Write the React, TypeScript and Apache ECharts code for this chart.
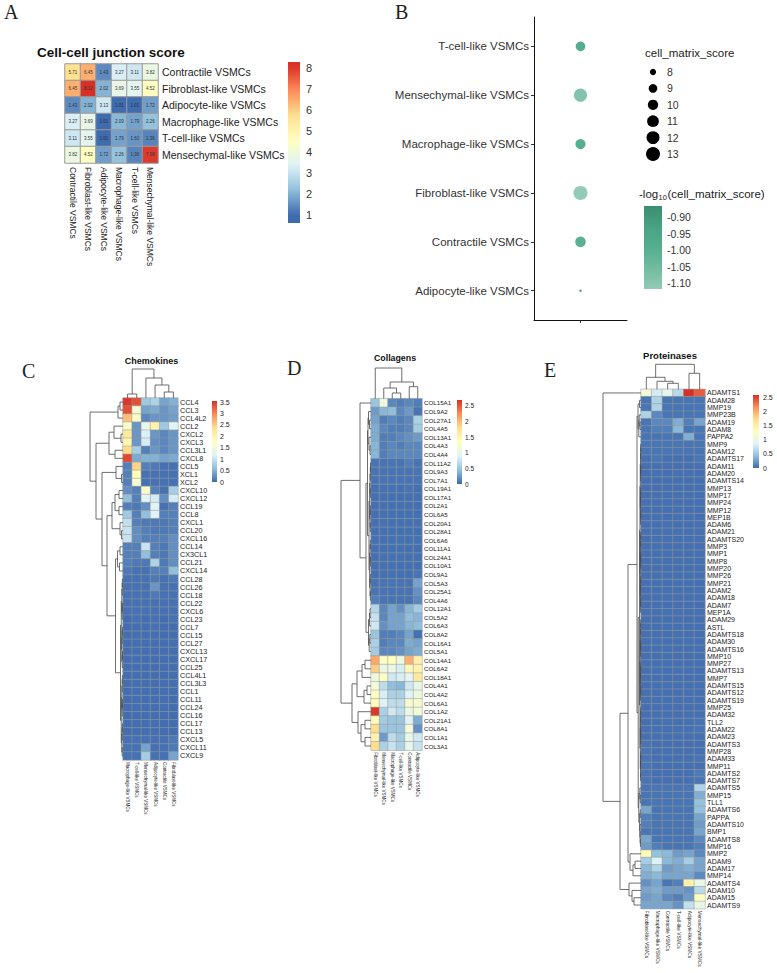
import React, { useEffect, useRef } from "react";
import * as echarts from "echarts";

type Tree = number | [Tree, Tree, number];

const SANS = '"Liberation Sans", Arial, Helvetica, sans-serif';
const SERIF = '"Liberation Serif", "Times New Roman", serif';
const PAL = ["#3F6BAF", "#91BFDB", "#E0F3F8", "#FFFFBF", "#FEE090", "#FC8D59", "#D73027"];
const GREENS = ["#93cbb6", "#72bb9f", "#55ae8f", "#48a283", "#3b8c71"];

// ---------------- Panel A : cell-cell junction score ----------------
const junctionTypes = [
  "Contractile VSMCs",
  "Fibroblast-like VSMCs",
  "Adipocyte-like VSMCs",
  "Macrophage-like VSMCs",
  "T-cell-like VSMCs",
  "Mensechymal-like VSMCs",
];
const junctionScores = [
  [5.71, 6.45, 1.43, 3.27, 3.11, 3.82],
  [6.45, 8.12, 2.02, 3.69, 3.55, 4.52],
  [1.43, 2.02, 3.13, 1.01, 1.01, 1.72],
  [3.27, 3.69, 1.01, 2.09, 1.79, 2.26],
  [3.11, 3.55, 1.01, 1.79, 1.6, 1.36],
  [3.82, 4.52, 1.72, 2.26, 1.36, 7.98],
];
const junctionTicks = [1, 2, 3, 4, 5, 6, 7, 8];

// ---------------- Panel B : cell matrix score dot plot ----------------
const dotTypes = [
  "Adipocyte-like VSMCs",
  "Contractile VSMCs",
  "Fibroblast-like VSMCs",
  "Macrophage-like VSMCs",
  "Mensechymal-like VSMCs",
  "T-cell-like VSMCs",
];
const matrixScores = [7.36, 10.2, 13.1, 9.9, 12.2, 9.6];
const sizeBreaks = [8, 9, 10, 11, 12, 13];
const colorBreaks = [-0.9, -0.95, -1.0, -1.05, -1.1];

// ---------------- Panel C : Chemokines ----------------
const chemoCols = [
  "Macrophage-like VSMCs",
  "T-cell-like VSMCs",
  "Mensechymal-like VSMCs",
  "Adipocyte-like VSMCs",
  "Contractile VSMCs",
  "Fibroblast-like VSMCs",
];
const chemoGenes = [
  "CCL4", "CCL3", "CCL4L2", "CCL2", "CXCL2", "CXCL3", "CCL3L1", "CXCL8", "CCL5", "XCL1", "XCL2",
  "CXCL10", "CXCL12", "CCL19", "CCL8", "CXCL1", "CCL20", "CXCL16", "CCL14", "CX3CL1", "CCL21",
  "CXCL14", "CCL28", "CCL26", "CCL18", "CCL22", "CXCL6", "CCL23", "CCL7", "CCL15", "CCL27",
  "CXCL13", "CXCL17", "CCL25", "CCL4L1", "CCL3L3", "CCL1", "CCL11", "CCL24", "CCL16", "CCL17",
  "CCL13", "CXCL5", "CXCL11", "CXCL9",
];
const chemoValues = [
  [3.5, 3.35, 0.7, 0.8, 0.4, 0.5],
  [3.35, 1.55, 0.4, 0.45, 0.3, 0.4],
  [2.6, 1.7, 0.2, 0.3, 0.3, 0.35],
  [1.65, 0.3, 1.35, 2.0, 0.7, 1.2],
  [2.2, 0.3, 1.15, 0.3, 0.2, 0.3],
  [1.95, 0.3, 1.1, 0.25, 0.2, 0.3],
  [2.4, 0.75, 0.15, 0.3, 0.2, 0.3],
  [3.4, 0.45, 0.5, 0.5, 0.4, 0.45],
  [0.15, 2.45, 0.15, 0.1, 0.05, 0.05],
  [0.15, 1.8, 0.05, 0.05, 0.05, 0.05],
  [0.15, 1.6, 0.05, 0.05, 0.05, 0.05],
  [0.25, 0.15, 1.65, 0.15, 0.05, 0.75],
  [0.6, 0.15, 1.25, 1.1, 0.25, 1.1],
  [0.15, 0.1, 0.25, 1.2, 0.05, 0.15],
  [0.7, 0.15, 0.6, 1.2, 0.15, 0.15],
  [0.95, 0.15, 0.1, 0.1, 0.1, 0.15],
  [1.0, 0.25, 0.15, 0.1, 0.1, 0.15],
  [1.0, 0.25, 0.15, 0.15, 0.15, 0.25],
  [0.15, 0.15, 1.0, 0.15, 0.1, 0.25],
  [0.15, 0.15, 0.6, 0.15, 0.1, 0.25],
  [0.15, 0.1, 0.1, 0.8, 0.1, 0.25],
  [0.1, 0.05, 0.05, 0.15, 0.15, 0.6],
  [0.05, 0.05, 0.05, 0.1, 0.05, 0.1],
  [0.05, 0.05, 0.05, 0.3, 0.05, 0.05],
  [0.05, 0.05, 0.05, 0.1, 0.05, 0.05],
  [0.05, 0.05, 0.05, 0.05, 0.05, 0.05],
  [0.05, 0.05, 0.05, 0.05, 0.05, 0.05],
  [0.03, 0.05, 0.03, 0.05, 0.03, 0.05],
  [0.03, 0.03, 0.03, 0.05, 0.03, 0.03],
  [0.03, 0.03, 0.03, 0.03, 0.03, 0.03],
  [0.03, 0.03, 0.03, 0.03, 0.03, 0.03],
  [0.03, 0.03, 0.03, 0.03, 0.03, 0.03],
  [0.03, 0.03, 0.03, 0.03, 0.03, 0.03],
  [0.03, 0.03, 0.03, 0.03, 0.03, 0.03],
  [0.03, 0.03, 0.03, 0.03, 0.03, 0.03],
  [0.03, 0.03, 0.03, 0.03, 0.03, 0.03],
  [0.03, 0.03, 0.03, 0.03, 0.03, 0.03],
  [0.03, 0.03, 0.03, 0.03, 0.03, 0.03],
  [0.03, 0.03, 0.03, 0.03, 0.03, 0.03],
  [0.03, 0.03, 0.03, 0.03, 0.03, 0.03],
  [0.03, 0.03, 0.03, 0.03, 0.03, 0.03],
  [0.03, 0.03, 0.03, 0.03, 0.03, 0.03],
  [0.05, 0.05, 0.05, 0.05, 0.05, 0.1],
  [0.05, 0.05, 0.4, 0.05, 0.05, 0.1],
  [0.05, 0.05, 0.75, 0.05, 0.05, 0.4],
];
const chemoTicks = [0, 0.5, 1, 1.5, 2, 2.5, 3, 3.5];

// ---------------- Panel D : Collagens ----------------
const collaCols = [
  "Fibroblast-like VSMCs",
  "Mensechymal-like VSMCs",
  "Macrophage-like VSMCs",
  "T-cell-like VSMCs",
  "Contractile VSMCs",
  "Adipocyte-like VSMCs",
];
const collaGenes = [
  "COL15A1", "COL9A2", "COL27A1", "COL4A5", "COL13A1", "COL4A3", "COL4A4", "COL11A2", "COL9A3",
  "COL7A1", "COL19A1", "COL17A1", "COL2A1", "COL6A5", "COL20A1", "COL28A1", "COL6A6", "COL11A1",
  "COL24A1", "COL10A1", "COL9A1", "COL5A3", "COL25A1", "COL4A6", "COL12A1", "COL5A2", "COL6A3",
  "COL8A2", "COL16A1", "COL5A1", "COL14A1", "COL6A2", "COL18A1", "COL4A1", "COL4A2", "COL6A1",
  "COL1A2", "COL21A1", "COL8A1", "COL1A1", "COL3A1",
];
const collaValues = [
  [0.5, 1.1, 0.15, 0.1, 0.15, 0.1],
  [0.25, 0.4, 0.45, 0.15, 0.25, 0.05],
  [0.3, 0.1, 0.15, 0.1, 0.15, 0.6],
  [0.35, 0.15, 0.1, 0.1, 0.15, 0.55],
  [0.35, 0.1, 0.1, 0.15, 0.2, 0.25],
  [0.4, 0.1, 0.15, 0.1, 0.15, 0.15],
  [0.4, 0.1, 0.15, 0.15, 0.15, 0.15],
  [0.05, 0.05, 0.05, 0.05, 0.1, 0.05],
  [0.05, 0.05, 0.05, 0.05, 0.05, 0.05],
  [0.05, 0.05, 0.05, 0.05, 0.05, 0.05],
  [0.03, 0.03, 0.03, 0.03, 0.05, 0.03],
  [0.03, 0.03, 0.03, 0.03, 0.03, 0.03],
  [0.03, 0.03, 0.03, 0.03, 0.03, 0.03],
  [0.03, 0.03, 0.03, 0.03, 0.03, 0.03],
  [0.03, 0.03, 0.03, 0.03, 0.03, 0.03],
  [0.03, 0.03, 0.03, 0.03, 0.03, 0.03],
  [0.03, 0.03, 0.03, 0.03, 0.03, 0.03],
  [0.03, 0.03, 0.03, 0.03, 0.03, 0.03],
  [0.03, 0.03, 0.03, 0.03, 0.03, 0.03],
  [0.03, 0.03, 0.03, 0.03, 0.03, 0.03],
  [0.03, 0.03, 0.03, 0.03, 0.03, 0.05],
  [0.05, 0.05, 0.05, 0.05, 0.05, 0.3],
  [0.05, 0.05, 0.05, 0.05, 0.05, 0.2],
  [0.1, 0.05, 0.05, 0.05, 0.05, 0.15],
  [0.65, 0.15, 0.3, 0.2, 0.4, 0.55],
  [0.75, 0.15, 0.3, 0.3, 0.45, 0.4],
  [0.8, 0.2, 0.3, 0.3, 0.4, 0.45],
  [0.5, 0.1, 0.1, 0.15, 0.3, 0.03],
  [0.6, 0.1, 0.15, 0.15, 0.35, 0.3],
  [0.55, 0.15, 0.15, 0.2, 0.3, 0.35],
  [2.1, 1.3, 1.35, 1.1, 2.05, 1.55],
  [1.9, 1.05, 1.05, 0.85, 1.45, 1.5],
  [1.1, 1.3, 0.8, 0.85, 0.95, 1.65],
  [1.15, 0.7, 0.45, 0.4, 0.8, 1.0],
  [1.3, 0.85, 0.6, 0.6, 0.9, 1.1],
  [1.4, 0.9, 0.7, 0.7, 1.2, 1.2],
  [2.65, 0.6, 0.8, 0.7, 1.05, 1.15],
  [1.4, 0.55, 0.5, 0.5, 0.9, 0.35],
  [1.8, 0.5, 0.5, 0.5, 1.15, 0.2],
  [1.5, 0.25, 0.7, 0.55, 1.0, 0.8],
  [1.8, 0.6, 0.75, 0.6, 1.0, 0.75],
];
const collaTicks = [0, 0.5, 1, 1.5, 2, 2.5];

// ---------------- Panel E : Proteinases ----------------
const protCols = [
  "Fibroblast-like VSMCs",
  "Macrophage-like VSMCs",
  "Contractile VSMCs",
  "T-cell-like VSMCs",
  "Adipocyte-like VSMCs",
  "Mensechymal-like VSMCs",
];
const protGenes = [
  "ADAMTS1", "ADAM28", "MMP19", "MMP23B", "ADAM19", "ADAM8", "PAPPA2", "MMP9", "ADAM12",
  "ADAMTS17", "ADAM11", "ADAM20", "ADAMTS14", "MMP13", "MMP17", "MMP24", "MMP12", "MEP1B",
  "ADAM6", "ADAM21", "ADAMTS20", "MMP3", "MMP1", "MMP8", "MMP20", "MMP26", "MMP21", "ADAM2",
  "ADAM18", "ADAM7", "MEP1A", "ADAM29", "ASTL", "ADAMTS18", "ADAM30", "ADAMTS16", "MMP10",
  "MMP27", "ADAMTS13", "MMP7", "ADAMTS15", "ADAMTS12", "ADAMTS19", "MMP25", "ADAM32", "TLL2",
  "ADAM22", "ADAM23", "ADAMTS3", "MMP28", "ADAM33", "MMP11", "ADAMTS2", "ADAMTS7", "ADAMTS5",
  "MMP15", "TLL1", "ADAMTS6", "PAPPA", "ADAMTS10", "BMP1", "ADAMTS8", "MMP16", "MMP2", "ADAM9",
  "ADAM17", "MMP14", "ADAMTS4", "ADAM10", "ADAM15", "ADAMTS9",
];
const protValues = [
  [1.1, 0.8, 0.95, 0.65, 2.6, 2.4],
  [0.05, 0.6, 0.05, 0.05, 0.05, 0.05],
  [0.05, 0.6, 0.05, 0.05, 0.05, 0.05],
  [0.6, 0.15, 0.05, 0.05, 0.05, 0.05],
  [0.05, 0.15, 0.15, 0.35, 0.1, 0.3],
  [0.05, 0.1, 0.1, 0.4, 0.05, 0.05],
  [0.05, 0.05, 0.05, 0.05, 0.35, 0.05],
  [0.05, 0.05, 0.05, 0.05, 0.05, 0.05],
  [0.05, 0.05, 0.05, 0.05, 0.05, 0.05],
  [0.03, 0.05, 0.03, 0.03, 0.03, 0.05],
  [0.03, 0.03, 0.03, 0.03, 0.03, 0.03],
  [0.03, 0.03, 0.03, 0.03, 0.03, 0.03],
  [0.03, 0.03, 0.03, 0.03, 0.03, 0.03],
  [0.03, 0.03, 0.03, 0.03, 0.03, 0.03],
  [0.03, 0.03, 0.03, 0.03, 0.03, 0.03],
  [0.03, 0.03, 0.03, 0.03, 0.03, 0.03],
  [0.03, 0.03, 0.03, 0.03, 0.03, 0.03],
  [0.03, 0.03, 0.03, 0.03, 0.03, 0.03],
  [0.03, 0.03, 0.03, 0.03, 0.03, 0.03],
  [0.03, 0.03, 0.03, 0.03, 0.03, 0.03],
  [0.03, 0.03, 0.03, 0.03, 0.03, 0.03],
  [0.03, 0.03, 0.03, 0.03, 0.03, 0.03],
  [0.03, 0.03, 0.03, 0.03, 0.03, 0.03],
  [0.03, 0.03, 0.03, 0.03, 0.03, 0.03],
  [0.03, 0.03, 0.03, 0.03, 0.03, 0.03],
  [0.03, 0.03, 0.03, 0.03, 0.03, 0.03],
  [0.03, 0.03, 0.03, 0.03, 0.03, 0.03],
  [0.03, 0.03, 0.03, 0.03, 0.03, 0.03],
  [0.03, 0.03, 0.03, 0.03, 0.03, 0.03],
  [0.03, 0.03, 0.03, 0.03, 0.03, 0.03],
  [0.03, 0.03, 0.03, 0.03, 0.03, 0.03],
  [0.03, 0.03, 0.03, 0.03, 0.03, 0.03],
  [0.03, 0.03, 0.03, 0.03, 0.03, 0.03],
  [0.03, 0.03, 0.03, 0.03, 0.03, 0.03],
  [0.03, 0.03, 0.03, 0.03, 0.03, 0.03],
  [0.03, 0.03, 0.03, 0.03, 0.03, 0.03],
  [0.03, 0.03, 0.03, 0.03, 0.03, 0.03],
  [0.03, 0.03, 0.03, 0.03, 0.03, 0.03],
  [0.03, 0.03, 0.03, 0.03, 0.03, 0.03],
  [0.03, 0.03, 0.03, 0.03, 0.03, 0.03],
  [0.03, 0.03, 0.03, 0.03, 0.03, 0.03],
  [0.03, 0.03, 0.03, 0.03, 0.03, 0.03],
  [0.03, 0.03, 0.03, 0.03, 0.03, 0.03],
  [0.03, 0.03, 0.03, 0.03, 0.03, 0.03],
  [0.03, 0.03, 0.03, 0.03, 0.03, 0.03],
  [0.03, 0.03, 0.03, 0.03, 0.03, 0.05],
  [0.03, 0.03, 0.03, 0.03, 0.03, 0.05],
  [0.03, 0.03, 0.03, 0.03, 0.03, 0.03],
  [0.05, 0.03, 0.03, 0.03, 0.03, 0.03],
  [0.05, 0.03, 0.03, 0.03, 0.03, 0.03],
  [0.05, 0.03, 0.03, 0.03, 0.03, 0.05],
  [0.05, 0.03, 0.03, 0.03, 0.03, 0.03],
  [0.05, 0.03, 0.03, 0.03, 0.03, 0.08],
  [0.05, 0.03, 0.03, 0.03, 0.03, 0.05],
  [0.05, 0.05, 0.05, 0.05, 0.05, 0.6],
  [0.05, 0.05, 0.05, 0.05, 0.05, 0.35],
  [0.05, 0.05, 0.05, 0.05, 0.05, 0.45],
  [0.3, 0.05, 0.05, 0.05, 0.05, 0.45],
  [0.1, 0.05, 0.05, 0.05, 0.05, 0.3],
  [0.1, 0.05, 0.05, 0.05, 0.05, 0.25],
  [0.05, 0.05, 0.05, 0.05, 0.05, 0.3],
  [0.3, 0.05, 0.05, 0.05, 0.05, 0.15],
  [0.25, 0.1, 0.05, 0.05, 0.05, 0.1],
  [1.35, 0.45, 0.4, 0.25, 0.3, 0.15],
  [0.55, 0.85, 0.4, 0.35, 0.55, 0.3],
  [0.4, 0.6, 0.25, 0.3, 0.35, 0.3],
  [0.35, 0.4, 0.3, 0.3, 0.3, 0.15],
  [0.2, 0.3, 0.05, 0.1, 1.5, 1.0],
  [0.3, 0.35, 0.25, 0.25, 0.2, 0.65],
  [0.25, 0.3, 0.15, 0.1, 0.25, 1.3],
  [0.3, 0.3, 0.3, 0.2, 0.7, 1.0],
];
const protTicks = [0, 0.5, 1, 1.5, 2, 2.5];

// ---------------- Dendrograms (merge trees, leaf = row / column index) ----------------
function blk(a: number, b: number, h: number): Tree {
  if (a === b) return a;
  const m = Math.floor((a + b) / 2);
  return [blk(a, m, h * 0.7), blk(m + 1, b, h * 0.7), h];
}
const chemoRowTree: Tree = [
  [[0, 1, 3], 2, 5],
  [
    [[3, [4, 5, 2], 9], [6, 7, 8], 14],
    [
      [8, [9, 10, 1.5], 7],
      [
        [[[11, 12, 4], [13, 14, 4], 8], [15, [16, 17, 1.5], 3], 11],
        [[[18, 19, 3], [20, 21, 3.5], 5.5], blk(22, 44, 2.5), 7.5],
        16,
      ],
      21,
    ],
    27,
  ],
  33,
];
const chemoColTree: Tree = [[0, 1, 4], [2, [3, [4, 5, 6], 13], 20], 29];

const collaRowTree: Tree = [
  [
    0,
    [
      [[[1, [2, 3, 1.5], 2.5], [4, [5, 6, 1], 2], 3], blk(7, 23, 2), 3.5],
      [[[24, 25, 1], 26, 1.5], [[27, 28, 1.2], 29, 1.8], 2.5],
      5,
    ],
    11,
  ],
  [
    [[[30, 31, 6], 32, 9], [[33, 34, 4], 35, 7], 14],
    [36, [[37, 38, 6], [39, 40, 6], 10], 13],
    19,
  ],
  30,
];
const collaColTree: Tree = [0, [[1, [2, 3, 5.7], 10.7], [4, 5, 12], 16.7], 30.7];

const protRowTree: Tree = [
  0,
  [
    [
      [
        [[1, 2, 1.5], [[3, [4, 5, 1], 1.8], 6, 2.2], 3],
        [
          blk(7, 53, 1.5),
          [[54, [55, 56, 0.8], 1.2], [[57, 58, 0.8], [59, [60, [61, 62, 0.6], 0.9], 1.1], 1.4], 2.2],
          2.8,
        ],
        4,
      ],
      [63, [[64, 65, 6], 66, 8], 11],
      13,
    ],
    [67, [68, [69, 70, 7], 9], 12],
    21,
  ],
  38,
];
const protColTree: Tree = [[0, [1, [2, 3, 6], 8], 12], [4, 5, 16], 25];

// ---------------- Layout (positions / sizes / styles only) ----------------
const LAYOUT = {
  A: {
    hm: { left: 65, top: 64, width: 93, height: 99 },
    xFont: 8.5, yFont: 10.5, margin: 4,
    bar: { x: 288, y: 62, w: 12, h: 161, lo: 0.62, hi: 8.29, labelX: 306, fs: 11 },
    title: { x: 37, y: 52 },
  },
  B: {
    grid: { left: 534, top: 17, width: 93, height: 303 },
    sizeLegend: { titleX: 645, titleY: 53, x: 653, y0: 72, dy: 16.4, labelX: 667 },
    colorLegend: { titleX: 639, titleY: 194, x: 644, y: 206, w: 18, h: 83, labelX: 667 },
  },
  C: {
    hm: { left: 123, top: 398, width: 55, height: 362 },
    rowD: 33, colD: 29, yFont: 7.2, xFont: 4.5,
    bar: { x: 212, y: 401, w: 5, h: 81, lo: 0, hi: 3.55, labelX: 220, fs: 7 },
    title: { text: "Chemokines", x: 151.5, y: 361, fs: 9 },
  },
  D: {
    hm: { left: 371, top: 398.7, width: 51, height: 351.6 },
    rowD: 30, colD: 30.7, yFont: 6.2, xFont: 4.5,
    bar: { x: 457, y: 400, w: 5, h: 84, lo: 0, hi: 2.69, labelX: 465, fs: 6.5 },
    title: { text: "Collagens", x: 395, y: 358, fs: 8.8 },
  },
  E: {
    hm: { left: 641, top: 389.3, width: 64, height: 519.4 },
    rowD: 38, colD: 25, yFont: 7, xFont: 4.8,
    bar: { x: 753, y: 395, w: 6, h: 73, lo: 0, hi: 2.6, labelX: 763, fs: 7 },
    title: { text: "Proteinases", x: 670, y: 355, fs: 9.5 },
  },
};

// ---------------- helpers ----------------
function hexToRgb(h: string) {
  const n = parseInt(h.slice(1), 16);
  return [(n >> 16) & 255, (n >> 8) & 255, n & 255];
}
function mix(stops: string[], t: number) {
  const tt = Math.max(0, Math.min(1, t));
  const f = tt * (stops.length - 1);
  const i = Math.min(stops.length - 2, Math.floor(f));
  const u = f - i;
  const a = hexToRgb(stops[i]);
  const b = hexToRgb(stops[i + 1]);
  const c = a.map((x, k) => Math.round(x + (b[k] - x) * u));
  return `rgb(${c[0]},${c[1]},${c[2]})`;
}
const palAt = (min: number, max: number) => (v: number) => mix(PAL, (v - min) / (max - min));

function txt(text: string, x: number, y: number, fontSize: number, extra: any = {}) {
  const align = extra.align || "left";
  return {
    type: "text",
    x,
    y,
    silent: true,
    z: 10,
    style: {
      text,
      fontSize,
      fontFamily: extra.fontFamily || SANS,
      fontWeight: extra.fontWeight || "normal",
      fill: extra.fill || "#222",
      align,
      textAlign: align,
      verticalAlign: "middle",
      textVerticalAlign: "middle",
    },
  };
}

function colorbar(cb: any, colorAt: (v: number) => string, ticks: number[], fmt: (v: number) => string, fill = "#222") {
  const stops: any[] = [];
  for (let i = 0; i <= 24; i++) {
    const t = i / 24;
    stops.push({ offset: t, color: colorAt(cb.hi - t * (cb.hi - cb.lo)) });
  }
  const els: any[] = [
    {
      type: "rect",
      silent: true,
      shape: { x: cb.x, y: cb.y, width: cb.w, height: cb.h },
      style: { fill: { type: "linear", x: 0, y: 0, x2: 0, y2: 1, colorStops: stops } },
    },
  ];
  ticks.forEach((v) => {
    const y = cb.y + ((cb.hi - v) / (cb.hi - cb.lo)) * cb.h;
    els.push(txt(fmt(v), cb.labelX ?? cb.x + cb.w + 5, y, cb.fs ?? 10.5, { fill }));
  });
  return els;
}

function segments(tree: Tree) {
  const out: number[][] = [];
  const walk = (n: Tree): [number, number] => {
    if (typeof n === "number") return [n, 0];
    const a = walk(n[0]);
    const b = walk(n[1]);
    out.push([a[0], a[1], b[0], b[1], n[2]]);
    return [(a[0] + b[0]) / 2, n[2]];
  };
  walk(tree);
  return out;
}
const rootHeight = (t: Tree) => (typeof t === "number" ? 0 : t[2]);

export default function App() {
  const ref = useRef<HTMLDivElement>(null);

  useEffect(() => {
    if (!ref.current) return;
    const chart = echarts.init(ref.current, null, { renderer: "svg" });

    const grids: any[] = [];
    const xAxes: any[] = [];
    const yAxes: any[] = [];
    const series: any[] = [];
    const visualMaps: any[] = [];
    const graphics: any[] = [];

    const addGrid = (g: any) => {
      grids.push({ ...g, containLabel: false, outerBoundsMode: "none", show: false });
      return grids.length - 1;
    };

    const heatAxes = (gi: number, cols: string[], rows: string[], xFont: number, yFont: number, margin: number) => {
      xAxes.push({
        type: "category", gridIndex: gi, data: cols, position: "bottom",
        axisLine: { show: false }, axisTick: { show: false }, splitLine: { show: false },
        axisLabel: { interval: 0, rotate: -90, fontSize: xFont, color: "#222", margin, fontFamily: SANS },
      });
      yAxes.push({
        type: "category", gridIndex: gi, data: rows, inverse: true, position: "right",
        axisLine: { show: false }, axisTick: { show: false }, splitLine: { show: false },
        axisLabel: { interval: 0, fontSize: yFont, color: "#222", margin, fontFamily: SANS },
      });
    };

    const heatSeries = (gi: number, values: number[][], min: number, max: number, border: number, label?: any) => {
      series.push({
        type: "heatmap", xAxisIndex: gi, yAxisIndex: gi,
        data: values.flatMap((row, r) => row.map((v, c) => [c, r, v])),
        itemStyle: { borderColor: "#9a9a9a", borderWidth: border },
        label: label || { show: false },
        emphasis: { disabled: true },
        silent: true,
      });
      visualMaps.push({
        type: "continuous", show: false, min, max, dimension: 2,
        seriesIndex: series.length - 1, inRange: { color: PAL },
      });
    };

    const dendro = (gi: number, tree: Tree, orient: "row" | "col", n: number) => {
      const H = rootHeight(tree);
      if (orient === "row") {
        xAxes.push({ type: "value", gridIndex: gi, min: 0, max: H, inverse: true, show: false });
        yAxes.push({ type: "value", gridIndex: gi, min: -0.5, max: n - 0.5, inverse: true, show: false });
      } else {
        xAxes.push({ type: "value", gridIndex: gi, min: -0.5, max: n - 0.5, show: false });
        yAxes.push({ type: "value", gridIndex: gi, min: 0, max: H, show: false });
      }
      series.push({
        type: "custom", xAxisIndex: gi, yAxisIndex: gi, silent: true, clip: false,
        data: segments(tree),
        renderItem: (_p: any, api: any) => {
          const pa = api.value(0), ha = api.value(1), pb = api.value(2), hb = api.value(3), h = api.value(4);
          const P = (p: number, hh: number) => (orient === "row" ? api.coord([hh, p]) : api.coord([p, hh]));
          return {
            type: "polyline",
            shape: { points: [P(pa, ha), P(pa, h), P(pb, h), P(pb, hb)] },
            style: { stroke: "#4a4a4a", lineWidth: 0.8, fill: null },
          };
        },
      });
    };

    // ---- Panel A ----
    const LA = LAYOUT.A;
    const gA = addGrid(LA.hm);
    heatAxes(gA, junctionTypes, junctionTypes, LA.xFont, LA.yFont, LA.margin);
    heatSeries(gA, junctionScores, 1.01, 8.12, 1, {
      show: true, fontSize: 4.5, color: "#333", fontFamily: SANS,
      formatter: (p: any) => Number(p.value[2]).toFixed(2),
    });
    graphics.push(txt("Cell-cell junction score", LA.title.x, LA.title.y, 13.5, { fontWeight: "bold", fill: "#111" }));
    graphics.push(...colorbar(LA.bar, palAt(1.01, 8.12), junctionTicks, (v) => String(v), "#333"));

    // ---- Panel B ----
    const LB = LAYOUT.B;
    const gB = addGrid(LB.grid);
    const sMin = Math.min(...matrixScores);
    const sMax = Math.max(...matrixScores);
    const sizeOf = (v: number) => 2.35 * (1 + 5 * Math.sqrt(Math.max(0, (v - sMin) / (sMax - sMin))));
    const cLo = -Math.log10(sMax);
    const cHi = -Math.log10(sMin);
    const greenAt = (v: number) => mix(GREENS, (v - cLo) / (cHi - cLo));
    xAxes.push({
      type: "value", gridIndex: gB, min: 0.4, max: 1.6,
      axisLine: { show: true, lineStyle: { color: "#111", width: 1 } },
      axisTick: { show: true, customValues: [1], length: 3, lineStyle: { color: "#333" } },
      axisLabel: { show: false }, splitLine: { show: false },
    });
    yAxes.push({
      type: "value", gridIndex: gB, min: 0.4, max: 6.6,
      axisLine: { show: true, lineStyle: { color: "#111", width: 1 } },
      axisTick: { show: true, customValues: [1, 2, 3, 4, 5, 6], length: 3, lineStyle: { color: "#333" } },
      axisLabel: {
        customValues: [1, 2, 3, 4, 5, 6], fontSize: 11.5, color: "#333", margin: 5, fontFamily: SANS,
        formatter: (v: number) => (Math.abs(v - Math.round(v)) < 1e-6 ? dotTypes[Math.round(v) - 1] || "" : ""),
      },
      splitLine: { show: false },
    });
    series.push({
      type: "scatter", xAxisIndex: gB, yAxisIndex: gB, silent: true,
      data: dotTypes.map((_, i) => ({
        value: [1, i + 1, matrixScores[i]],
        itemStyle: { color: greenAt(-Math.log10(matrixScores[i])), opacity: 1 },
      })),
      symbolSize: (val: number[]) => sizeOf(val[2]),
    });
    const SL = LB.sizeLegend;
    graphics.push(txt("cell_matrix_score", SL.titleX, SL.titleY, 11.5, { fill: "#222" }));
    sizeBreaks.forEach((b, i) => {
      const y = SL.y0 + i * SL.dy;
      graphics.push({ type: "circle", silent: true, shape: { cx: SL.x, cy: y, r: sizeOf(b) / 2 }, style: { fill: "#000" } });
      graphics.push(txt(String(b), SL.labelX, y, 10.5, { fill: "#333" }));
    });
    const CL = LB.colorLegend;
    graphics.push(txt("-log", CL.titleX, CL.titleY, 11.5, { fill: "#222" }));
    graphics.push(txt("10", CL.titleX + 19.5, CL.titleY + 3.5, 7.5, { fill: "#222" }));
    graphics.push(txt("(cell_matrix_score)", CL.titleX + 28.5, CL.titleY, 11.5, { fill: "#222" }));
    graphics.push(
      ...colorbar(
        { x: CL.x, y: CL.y, w: CL.w, h: CL.h, lo: cLo, hi: cHi, labelX: CL.labelX, fs: 10.5 },
        greenAt, colorBreaks, (v) => v.toFixed(2), "#333",
      ),
    );

    // ---- Panels C, D, E ----
    const panel = (L: any, cols: string[], genes: string[], values: number[][], rowTree: Tree, colTree: Tree, ticks: number[]) => {
      const g = addGrid(L.hm);
      heatAxes(g, cols, genes, L.xFont, L.yFont, 2);
      heatSeries(g, values, L.bar.lo, L.bar.hi, 0.5);
      const gr = addGrid({ left: L.hm.left - L.rowD, top: L.hm.top, width: L.rowD, height: L.hm.height });
      dendro(gr, rowTree, "row", genes.length);
      const gc = addGrid({ left: L.hm.left, top: L.hm.top - L.colD, width: L.hm.width, height: L.colD });
      dendro(gc, colTree, "col", cols.length);
      graphics.push(...colorbar(L.bar, palAt(L.bar.lo, L.bar.hi), ticks, (v) => String(v), "#222"));
      graphics.push(txt(L.title.text, L.title.x, L.title.y, L.title.fs, { fontWeight: "bold", align: "center", fill: "#111" }));
    };
    panel(LAYOUT.C, chemoCols, chemoGenes, chemoValues, chemoRowTree, chemoColTree, chemoTicks);
    panel(LAYOUT.D, collaCols, collaGenes, collaValues, collaRowTree, collaColTree, collaTicks);
    panel(LAYOUT.E, protCols, protGenes, protValues, protRowTree, protColTree, protTicks);

    // ---- panel letters ----
    const letters: [string, number, number][] = [
      ["A", 4, 12], ["B", 395, 12], ["C", 22, 370.5], ["D", 287, 367.5], ["E", 544, 370],
    ];
    letters.forEach(([t, x, y]) => graphics.push(txt(t, x, y, 20, { fontFamily: SERIF, fill: "#222" })));

    chart.setOption({
      animation: false,
      backgroundColor: "#ffffff",
      textStyle: { fontFamily: SANS },
      grid: grids,
      xAxis: xAxes,
      yAxis: yAxes,
      visualMap: visualMaps,
      series,
      graphic: { elements: graphics },
    });

    return () => chart.dispose();
  }, []);

  return (
    <div
      ref={ref}
      style={{ position: "absolute", left: 0, top: 0, width: 777, height: 973, background: "#fff" }}
    />
  );
}
